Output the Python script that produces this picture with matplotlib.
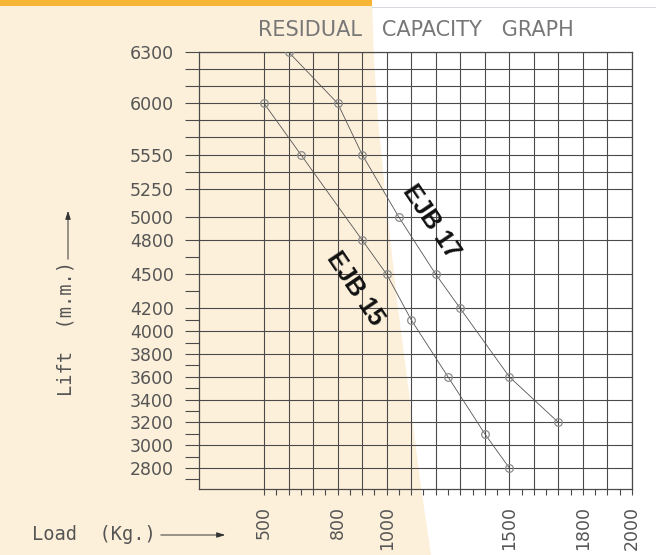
import numpy as np
import matplotlib
matplotlib.use("Agg")
import matplotlib.pyplot as plt
from matplotlib.patches import Polygon, Rectangle, FancyArrowPatch
from matplotlib.ticker import FixedLocator, NullFormatter

# ---- data ----
ejb15_load = [500, 650, 900, 1000, 1100, 1250, 1400, 1500]
ejb15_lift = [6000, 5550, 4800, 4500, 4100, 3600, 3100, 2800]
ejb17_load = [600, 800, 900, 1050, 1200, 1300, 1500, 1700]
ejb17_lift = [6300, 6000, 5550, 5000, 4500, 4200, 3600, 3200]

y_ticks = [6300, 6000, 5550, 5250, 5000, 4800, 4500, 4200, 4000, 3800,
           3600, 3400, 3200, 3000, 2800]
y_extra_grid = [6200, 6100, 5850, 5700, 5400]
y_minor = [4650, 4350, 4100, 3900, 3700, 3500, 3300, 3100, 2900, 2700]
x_ticks = [500, 800, 1000, 1500, 1800, 2000]
x_grid = list(range(500, 2001, 100))
x_minor = list(range(550, 2000, 50))

W, H = 656, 555
fig = plt.figure(figsize=(W / 100, H / 100), dpi=100)
fig.patch.set_facecolor("white")


def px(pts):
    return [(x / W, 1 - y / H) for x, y in pts]


peach = "#fdf0da"
fig.patches.append(Polygon(px([(0, 0), (372, 0), (374, 60), (378, 120), (386, 200),
                               (397, 300), (410, 400), (420, 480), (431, 555), (0, 555)]),
                           closed=True, transform=fig.transFigure, facecolor=peach,
                           edgecolor="none", zorder=-10))
fig.patches.append(Rectangle((0, 1 - 6 / H), 372 / W, 6 / H, transform=fig.transFigure,
                             facecolor="#f6b535", edgecolor="none", zorder=-9))
fig.patches.append(Rectangle((372 / W, 1 - 8 / H), 1 - 372 / W, 1.2 / H, transform=fig.transFigure,
                             facecolor="#d8d8e0", edgecolor="none", zorder=-9))

ax = fig.add_axes([199 / W, 1 - 489 / H, (632 - 199) / W, (489 - 52) / H])
ax.set_facecolor("none")


def fwd(y):
    y = np.asarray(y, dtype=float)
    return np.where(y > 6000, 6000 + 1.5 * (y - 6000), y)


def inv(t):
    t = np.asarray(t, dtype=float)
    return np.where(t > 6000, 6000 + (t - 6000) / 1.5, t)


ax.set_yscale("function", functions=(fwd, inv))
ax.set_xlim(235, 2000)
ax.set_ylim(2616, 6300)

gridc = "#4a4a4a"
ax.hlines(y_ticks + y_extra_grid, 235, 2000, colors=gridc, linewidth=0.8, zorder=1)
ax.vlines(x_grid, 2616, 6300, colors=gridc, linewidth=0.8, zorder=1)

for sp in ax.spines.values():
    sp.set_color(gridc)
    sp.set_linewidth(0.9)

for xs, ys in [(ejb15_load, ejb15_lift), (ejb17_load, ejb17_lift)]:
    ax.plot(xs, ys, color="#555555", linewidth=0.6, zorder=3)
    ax.plot(xs, ys, linestyle="none", marker="o", markersize=5.5,
            markerfacecolor="none", markeredgecolor="#8a8a8a", markeredgewidth=0.9, zorder=4)

lab_color = "#555555"
ax.yaxis.set_major_locator(FixedLocator(y_ticks))
ax.yaxis.set_minor_locator(FixedLocator(y_extra_grid + y_minor))
ax.yaxis.set_minor_formatter(NullFormatter())
ax.set_yticklabels([str(v) for v in y_ticks])
ax.tick_params(axis="y", which="both", direction="out", length=10, width=0.8,
               color=gridc, pad=8, labelsize=12.5, labelcolor=lab_color)

ax.xaxis.set_major_locator(FixedLocator(x_ticks))
ax.xaxis.set_minor_locator(FixedLocator(x_minor))
ax.xaxis.set_minor_formatter(NullFormatter())
ax.set_xticklabels([str(v) for v in x_ticks], rotation=90)
ax.tick_params(axis="x", which="both", direction="out", length=4, width=0.8,
               color=gridc, pad=8, labelsize=12.5, labelcolor=lab_color)

ax.text(1180, 4960, "EJB 17", rotation=-56, ha="center", va="center",
        fontsize=18, fontweight="bold", family="Liberation Sans", color="#111111", zorder=5)
ax.text(870, 4370, "EJB 15", rotation=-56, ha="center", va="center",
        fontsize=18, fontweight="bold", family="Liberation Sans", color="#111111", zorder=5)

fig.text(416 / W, 1 - 30 / H, "RESIDUAL   CAPACITY   GRAPH", ha="center", va="center",
         fontsize=15, color="#777777")
fig.text(66 / W, 1 - 329 / H, "Lift  (m.m.)", rotation=90, ha="center", va="center",
         fontsize=13.5, color=lab_color, family="DejaVu Sans Mono")
fig.text(94 / W, 1 - 535 / H, "Load  (Kg.)", ha="center", va="center",
         fontsize=13.5, color=lab_color, family="DejaVu Sans Mono")

fig.add_artist(FancyArrowPatch(
    (68 / W, 1 - 262 / H), (68 / W, 1 - 208 / H), transform=fig.transFigure,
    arrowstyle="-|>,head_length=5,head_width=1.6", mutation_scale=1, color="#333333",
    linewidth=0.7))
fig.add_artist(FancyArrowPatch(
    (158 / W, 1 - 535 / H), (228 / W, 1 - 535 / H), transform=fig.transFigure,
    arrowstyle="-|>,head_length=5,head_width=1.6", mutation_scale=1, color="#333333",
    linewidth=0.7))

fig.savefig("out.png", dpi=100)
